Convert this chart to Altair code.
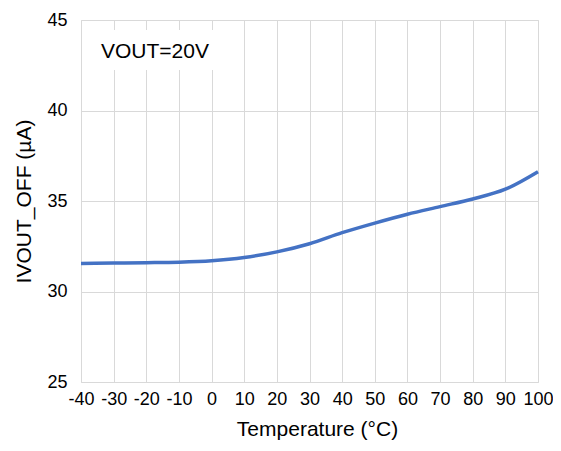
import altair as alt
import pandas as pd

temps = [-40, -30, -20, -10, 0, 10, 20, 30, 40, 50, 60, 70, 80, 90, 100]
ivout = [31.55, 31.57, 31.59, 31.62, 31.70, 31.88, 32.19, 32.64, 33.25, 33.78, 34.27, 34.69, 35.11, 35.65, 36.62]
x_ticks = list(range(-40, 101, 10))
y_ticks = [25, 30, 35, 40, 45]
label_text = "VOUT=20V"

df = pd.DataFrame({"T": temps, "I": ivout})
FONT = "Liberation Sans"

line = alt.Chart(df).mark_line(color="#4472C4", strokeWidth=3.5, interpolate="monotone").encode(
    x=alt.X("T:Q", scale=alt.Scale(domain=[-40, 100], nice=False),
            axis=alt.Axis(values=x_ticks, title="Temperature (°C)", grid=True, ticks=False,
                          domain=False, labelFontSize=18, titleFontSize=21, labelPadding=8,
                          titlePadding=10, labelFont=FONT, titleFont=FONT, labelColor="#000",
                          titleColor="#000", titleFontWeight="normal", gridColor="#d9d9d9",
                          titleX=236, labelFlush=False, labelOverlap=False,
                          labelExpr="datum.value + ''")),
    y=alt.Y("I:Q", scale=alt.Scale(domain=[25, 45], nice=False),
            axis=alt.Axis(values=y_ticks, title="IVOUT_OFF (µA)", grid=True, ticks=False,
                          domain=False, labelFontSize=18, titleFontSize=21, labelPadding=14,
                          titlePadding=12, labelFont=FONT, titleFont=FONT, labelColor="#000",
                          titleColor="#000", titleFontWeight="normal", gridColor="#d9d9d9",
                          labelFlush=False)),
)

box = alt.Chart(pd.DataFrame({"t": [label_text]})).mark_rect(color="white").encode(
    x=alt.value(18), x2=alt.value(143), y=alt.value(10), y2=alt.value(50)
)
txt = alt.Chart(pd.DataFrame({"t": [label_text]})).mark_text(
    align="left", baseline="alphabetic", fontSize=21, font=FONT, color="#000"
).encode(x=alt.value(20), y=alt.value(38), text="t:N")

chart = alt.layer(box, txt, line).properties(
    width=457, height=362,
    autosize=alt.AutoSizeParams(type="none"),
    padding={"left": 73, "top": 12, "right": 15, "bottom": 61},
).configure_view(stroke="#000", strokeWidth=1.5).configure(background="white")

chart.save("out.html", embed_options={"renderer": "svg", "actions": False})
